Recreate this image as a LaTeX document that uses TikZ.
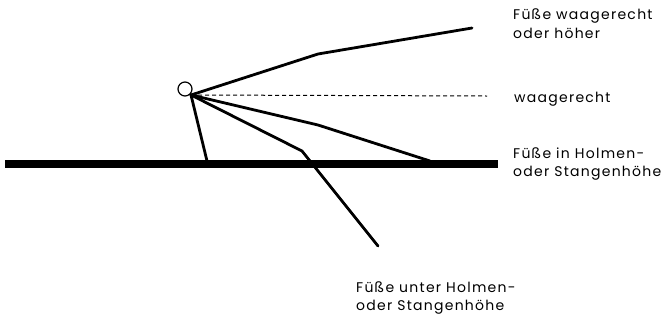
\documentclass[tikz,border=0pt]{standalone}
\usepackage{fontspec}
\usepackage{tikz}
\usetikzlibrary{positioning, calc}
\newfontfamily\labfont[LetterSpace=9]{Poppins}
\tikzset{
  leg/.style={draw, line width=2.8pt, line join=round, line cap=round},
  level line/.style={draw, line width=1pt, dash pattern=on 4pt off 3pt},
  holm/.style={draw, line width=7.5pt},
  head/.style={circle, draw, line width=1.2pt, minimum size=14pt, inner sep=0pt},
  caption/.style={anchor=north west, align=left, inner sep=0pt,
    font=\labfont\fontsize{14}{18.5}\selectfont},
}
\begin{document}
\begin{tikzpicture}[x=1pt, y=-1pt]
  \useasboundingbox (0,0) rectangle (668,322);

  % bar and gymnast
  \draw[holm] (5,164) -- (498,164);
  \node[head] (kopf) at (185,89) {};
  \coordinate (hip) at (191,95);
  \coordinate (fuss) at (207,161);
  \draw[leg] (hip) -- (fuss);

  % leg positions
  \coordinate (kneeHigh) at (318,54);
  \coordinate (toeHigh) at (472,28);
  \coordinate (toeFlat) at (487,96);
  \coordinate (kneeHolm) at (318,125);
  \coordinate (toeHolm) at (430,161);
  \coordinate (kneeLow) at (302,151);
  \coordinate (toeLow) at (378,246);

  \draw[leg] (hip) -- (kneeHigh) -- (toeHigh);
  \draw[level line] (hip) -- (toeFlat);
  \draw[leg] (hip) -- (kneeHolm) -- (toeHolm);
  \draw[leg] (hip) -- (kneeLow) -- (toeLow);

  % captions
  \node[caption] (capHigh) at (513,9) {Füße waagerecht\\oder höher};
  \node[caption] (capFlat) at (514,92) {waagerecht};
  \node[caption] (capHolm) at (513,147) {Füße in Holmen-\\oder Stangenhöhe};
  \node[caption] (capLow) at (356,281) {Füße unter Holmen-\\oder Stangenhöhe};
\end{tikzpicture}
\end{document}
